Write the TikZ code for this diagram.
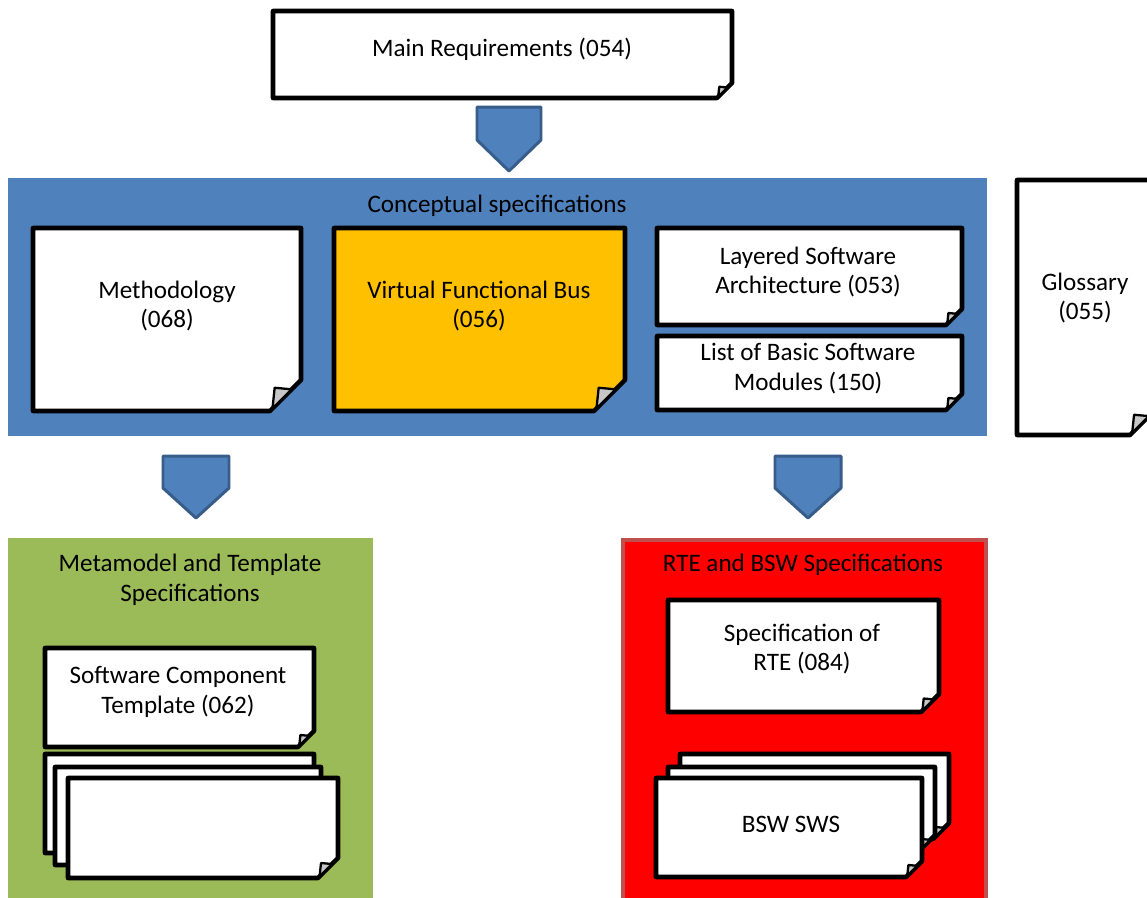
\documentclass[tikz,border=0pt]{standalone}
\usepackage{fontspec}
\setmainfont{Carlito}
\definecolor{cblue}{HTML}{4F81BD}
\definecolor{arrowedge}{HTML}{385D8A}
\definecolor{cgreen}{HTML}{9BBB59}
\definecolor{cred}{HTML}{FF0000}
\definecolor{credge}{HTML}{C0504D}
\definecolor{cgold}{HTML}{FFC000}
\tikzset{
  doc/.style={draw=black, line width=2.6pt, line join=round},
  fold/.style={draw=black, line width=1.3pt, fill=black!22, line join=round},
  txt/.style={font=\fontsize{14.3}{17}\selectfont, align=center, text=black, inner sep=0pt},
  blockarrow/.style={fill=cblue, draw=arrowedge, line width=1.7pt, line join=round},
  panel/.style={draw=none},
}
% #1 fill, #2 x1, #3 y1, #4 x2, #5 y2, #6 cut
\newcommand\docpath[6]{%
  \filldraw[doc, fill=#1] (#2,#3) -- (#4,#3) -- (#4,#5-#6) -- (#4-#6,#5) -- (#2,#5) -- cycle;
  \filldraw[fold] (#4-0.92*#6,#5-0.08*#6) -- (#4-0.85*#6,#5-0.75*#6) -- (#4-0.3*#6,#5-0.7*#6) -- cycle;}
% #1 x1, #2 x2, #3 ytop, #4 ymid, #5 ytip
\newcommand\blockarr[5]{%
  \filldraw[blockarrow] (#1,#3) -- (#2,#3) -- (#2,#4) -- ({(#1+#2)/2},#5) -- (#1,#4) -- cycle;}
\begin{document}
\begin{tikzpicture}[x=0.02cm, y=-0.02cm]
\useasboundingbox (0,0) rectangle (1147,897);
\clip (0,0) rectangle (1147,897);
\fill[white] (0,0) rectangle (1147,897);

% panels
\fill[panel, cblue] (8,178) rectangle (987,436);
\fill[panel, cgreen] (8,538) rectangle (373,900);
\filldraw[fill=cred, draw=credge, line width=2.3pt] (623,540) rectangle (986,905);

% block arrows
\blockarr{477}{541}{107}{140}{171}
\blockarr{163}{229}{456}{488}{518}
\blockarr{775}{841}{456}{488}{518}

% documents
\docpath{white}{273}{11}{732}{98}{15}
\docpath{white}{33}{228}{301}{411}{31}
\docpath{cgold}{334}{228}{625}{411}{31}
\docpath{white}{657}{228}{962}{325}{16}
\docpath{white}{657}{336}{962}{410}{16}
\docpath{white}{1017}{180}{1157}{435}{27}
\docpath{white}{45}{648}{314}{747}{16}
\docpath{white}{45}{754}{314}{853}{16}
\docpath{white}{55}{767}{321}{865}{16}
\docpath{white}{68}{778}{338}{878}{20}
\docpath{white}{668}{600}{939}{712}{18}
\docpath{white}{680}{754}{949}{839}{16}
\docpath{white}{668}{767}{935}{851}{16}
\docpath{white}{656}{778}{922}{877}{16}

% texts
\node[txt] (mainreq) at (502,49) {Main Requirements (054)};
\node[txt] (concept) at (497,206) {Conceptual specifications};
\node[txt] (method) at (167,306) {Methodology\\(068)};
\node[txt] (vfb) at (479,306) {Virtual Functional Bus\\(056)};
\node[txt] (layered) at (808,272) {Layered Software\\Architecture (053)};
\node[txt] (bswlist) at (808,369) {List of Basic Software\\Modules (150)};
\node[txt] (gloss) at (1085,298) {Glossary\\(055)};
\node[txt] (meta) at (190,580) {Metamodel and Template\\Specifications};
\node[txt] (swct) at (178,692) {Software Component\\Template (062)};
\node[txt] (rtebsw) at (803,565) {RTE and BSW Specifications};
\node[txt] (rte) at (802,649) {Specification of\\RTE (084)};
\node[txt] (bswsws) at (791,824) {BSW SWS};
\end{tikzpicture}
\end{document}
